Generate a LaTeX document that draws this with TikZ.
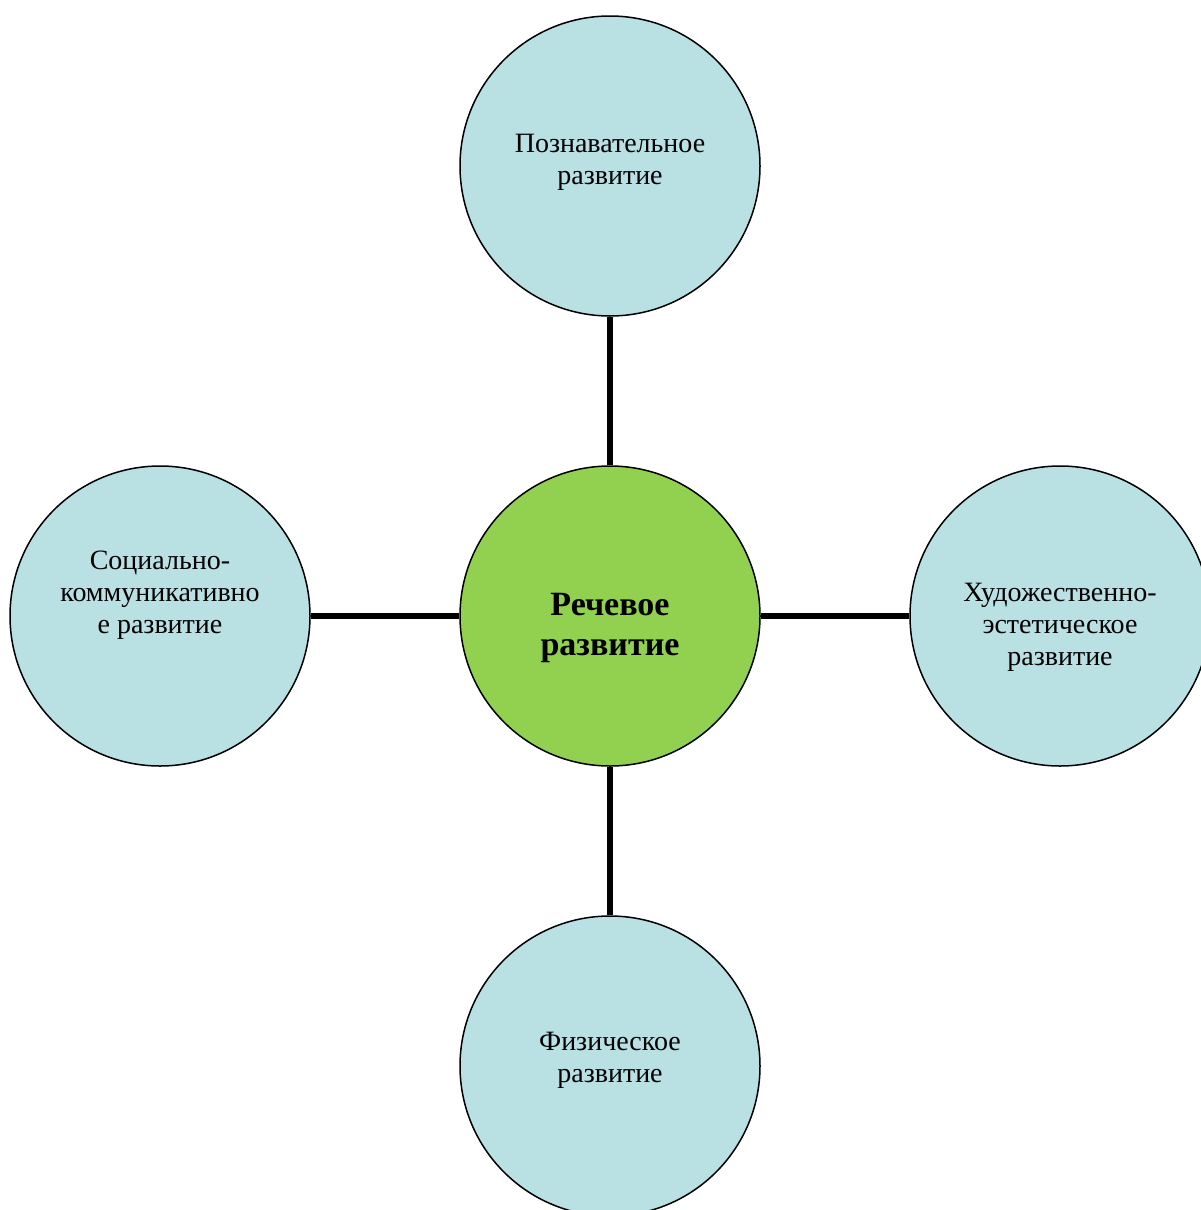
\documentclass[tikz,border=0pt]{standalone}
\usepackage{fontspec}
\setmainfont{Liberation Serif}
\definecolor{sideblue}{RGB}{185,224,227}
\definecolor{midgreen}{RGB}{146,208,80}
\begin{document}
\begin{tikzpicture}[x=1pt,y=-1pt,
  bubble/.style={circle,draw=black,line width=1.5pt,minimum size=300pt,inner sep=0pt,fill=sideblue},
  hub/.style={bubble,fill=midgreen},
  link/.style={line width=5.5pt,draw=black},
  txt/.style={anchor=base,inner sep=0pt,align=center,font=\fontsize{28}{32}\selectfont},
  hubtxt/.style={anchor=base,inner sep=0pt,align=center,font=\fontsize{34}{40}\selectfont\bfseries}]
\clip (0,0) rectangle (1201,1210);
\fill[white] (0,0) rectangle (1201,1210);
\node[hub] (c) at (610,616) {};
\node[bubble] (t) at (610,166) {};
\node[bubble] (l) at (160,616) {};
\node[bubble] (r) at (1060,616) {};
\node[bubble] (b) at (610,1066) {};
\draw[link] (t) -- (c);
\draw[link] (l) -- (c);
\draw[link] (r) -- (c);
\draw[link] (b) -- (c);
\node[hubtxt] (ct) at (610,655) {Речевое\\развитие};
\node[txt] (tt) at (610,184) {Познавательное\\развитие};
\node[txt] (lt) at (160,633) {Социально-\\коммуникативно\\е развитие};
\node[txt] (rt) at (1060,665) {Художественно-\\эстетическое\\развитие};
\node[txt] (bt) at (610,1082) {Физическое\\развитие};
\end{tikzpicture}
\end{document}
